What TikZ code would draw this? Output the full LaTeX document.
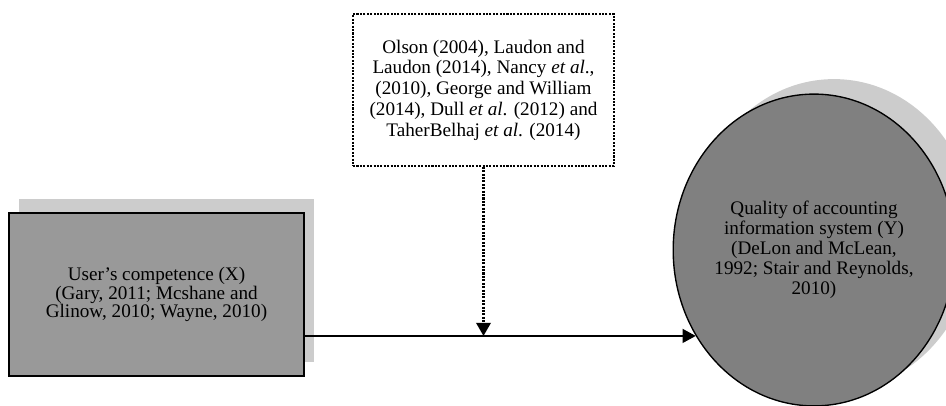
\documentclass[tikz,border=0pt]{standalone}
\usepackage{fontspec}
\setmainfont{Liberation Serif}
\usetikzlibrary{shapes.geometric,shadows,arrows.meta,calc}

\tikzset{
  factorbox/.style={draw=black, line width=0.35mm, fill=black!40,
    minimum width=64.9mm, minimum height=35.9mm, inner sep=0pt,
    align=center, font=\fontsize{12}{11.5}\selectfont,
    general shadow={fill=black!20, shadow xshift=2.3mm, shadow yshift=3.1mm}},
  outcome/.style={ellipse, draw=black, line width=0.3mm, fill=black!50,
    minimum width=55.9mm, minimum height=68.6mm, inner sep=0pt,
    align=center, font=\fontsize{12}{12.5}\selectfont,
    general shadow={fill=black!20, shadow xshift=4.4mm, shadow yshift=3.3mm}},
  sourcebox/.style={draw=black, line width=0.4mm, dash pattern=on 0.45mm off 0.3mm,
    minimum width=57.4mm, minimum height=33.4mm, inner sep=0pt,
    align=center, font=\fontsize{12}{13}\selectfont},
  arr/.style={line width=0.25mm, -{Triangle[length=2.9mm,width=3.1mm]}},
  dotarr/.style={line width=0.45mm, dash pattern=on 0.45mm off 0.3mm,
    -{Triangle[length=2.9mm,width=3.2mm]}}
}

\begin{document}
\begin{tikzpicture}[x=0.22mm, y=-0.22mm]
    \useasboundingbox (0,0) rectangle (946,406);
    % Variables
    \node[factorbox] (comp) at (156.5,294.5)
      {User's competence (X)\\(Gary, 2011; Mcshane and\\Glinow, 2010; Wayne, 2010)};
    \node[outcome] (qual) at (814,250)
      {Quality of accounting\\information system (Y)\\(DeLon and McLean,\\1992; Stair and Reynolds,\\2010)};
    %
    \node[sourcebox] (lit) at (483.5,90)
      {Olson (2004), Laudon and\\Laudon (2014), Nancy \emph{et al}.,\\(2010), George and William\\(2014), Dull \emph{et al}. (2012) and\\TaherBelhaj \emph{et al}. (2014)};
    % Links
    \draw[arr] (comp.east |- qual.216) -- (qual.216);
    \coordinate (meet) at (lit.south |- qual.216);
    \draw[dotarr] (lit.south) -- (meet);
\end{tikzpicture}
\end{document}
